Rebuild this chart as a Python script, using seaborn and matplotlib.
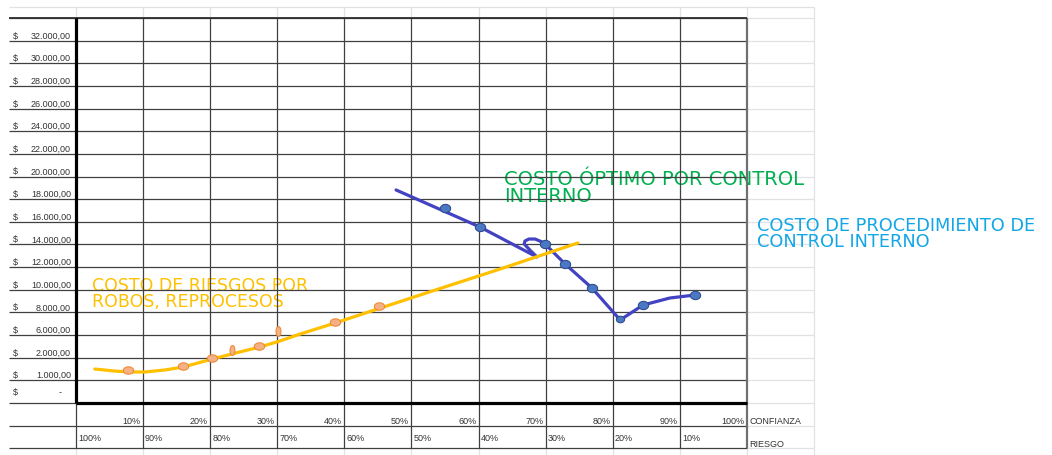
import numpy as np
import matplotlib.pyplot as plt
import seaborn as sns

# niveles de costo de la hoja (una fila por nivel, de abajo hacia arriba)
niveles = [0, 1000, 2000, 6000, 8000, 10000, 12000, 14000, 16000, 18000,
           20000, 22000, 24000, 26000, 28000, 30000, 32000]
confianza = ["10%", "20%", "30%", "40%", "50%", "60%", "70%", "80%", "90%", "100%"]
riesgo = ["100%", "90%", "80%", "70%", "60%", "50%", "40%", "30%", "20%", "10%"]

# curva amarilla: costo de riesgos (x = % confianza, y = $)
riesgo_x = [2.8, 5.8, 8.1, 10.3, 13.3, 16.0, 20.3, 24.4, 27.4, 30.4, 33.4, 38.6, 51.3, 63.2, 74.8]
riesgo_y = [1500, 1410, 1370, 1370, 1460, 1590, 1940, 3010, 3890, 4950, 6090, 7060, 9540, 11830, 14130]
puntos_riesgo_x = [7.8, 16.0, 20.3, 27.3, 38.6, 45.2]
puntos_riesgo_y = [1460, 1630, 1990, 4070, 7150, 8570]
puntos_angostos_x = [23.3, 30.1]
puntos_angostos_y = [3360, 6360]

# curva azul: costo de procedimiento de control interno
control_x = [47.7, 60.2, 68.7, 67.7, 66.8, 66.9, 67.5, 68.4, 69.3, 69.9, 72.9, 76.9, 81.1, 84.5, 88.5, 92.3]
control_y = [18810, 15540, 12890, 13470, 14040, 14300, 14480, 14480, 14260, 14040, 12270, 10150, 7330, 8650, 9270, 9540]
puntos_control_x = [55.0, 60.2, 69.9, 72.9, 76.9, 84.5, 92.3]
puntos_control_y = [17220, 15540, 14040, 12270, 10150, 8650, 9540]
punto_minimo_x = [81.1]
punto_minimo_y = [7420]


def fila(v):
    return np.interp(v, niveles, np.arange(len(niveles)))


def formato(v):
    if v == 0:
        return "-"
    return f"{v:,.2f}".replace(",", "X").replace(".", ",").replace("X", ".")


def elipse(ancho, alto):
    t = np.linspace(0, 2 * np.pi, 40)
    return np.column_stack([ancho * np.cos(t), alto * np.sin(t)])


sns.set_style("white")
plt.rcParams['font.family'] = ['Liberation Sans', 'DejaVu Sans']

fig = plt.figure(figsize=(10.52, 4.55), dpi=100)
ax = fig.add_axes([0, 0, 1, 1])
ax.set_xlim(-76 / 6.71, 976 / 6.71)
ax.set_ylim(-52 / 22.65, 403 / 22.65)
ax.axis('off')

oscuro = '#404040'
claro = '#e2e2e6'

# cuadricula tipo hoja de calculo
filas = list(range(-2, 18))
ax.hlines(filas, -10, 100, color=oscuro, lw=0.9, zorder=2)
ax.hlines(filas + [17.5], 100, 110, color=claro, lw=0.9, zorder=1)
ax.hlines(17.5, -10, 100, color=claro, lw=0.9, zorder=1)
ax.vlines(range(10, 100, 10), -2, 17, color=oscuro, lw=0.9, zorder=2)
ax.vlines(range(0, 111, 10), 17, 17.5, color=claro, lw=0.9, zorder=1)
ax.vlines(range(0, 111, 10), -2.3, -2, color=claro, lw=0.9, zorder=1)
ax.vlines(110, -2, 17, color=claro, lw=0.9, zorder=1)
ax.vlines(0, -2, 0, color=oscuro, lw=0.9, zorder=2)
ax.vlines(100, -2, 17, color='#707070', lw=1.6, zorder=2)
ax.hlines(17, -10, 100, color='#303030', lw=1.3, zorder=2)
ax.vlines(0, 0, 17, color='black', lw=2.3, zorder=3)
ax.hlines(0, 0, 100, color='black', lw=2.3, zorder=3)

# etiquetas de costo
txt = dict(fontsize=6.5, color='#333333', va='baseline')
for k, v in enumerate(niveles):
    base = k + 0.09 if v else 0.35
    ax.text(-9.4, base, "$", ha='left', **txt)
    if v:
        ax.text(-0.75, base, formato(v), ha='right', **txt)
    else:
        ax.text(-2.4, base, formato(v), ha='center', **txt)

# filas de confianza y riesgo
for i, lab in enumerate(confianza):
    ax.text(10 * (i + 1) - 0.35, -0.93, lab, ha='right', **txt)
ax.text(100.3, -0.93, "CONFIANZA", ha='left', **txt)
for i, lab in enumerate(riesgo):
    ax.text(10 * i + 0.3, -1.68, lab, ha='left', **txt)
ax.text(100.3, -1.94, "RIESGO", ha='left', **txt)

# curvas
sns.lineplot(x=control_x, y=fila(control_y), sort=False, estimator=None,
             color='#4242C2', lw=2.3, zorder=4, ax=ax)
sns.lineplot(x=riesgo_x, y=fila(riesgo_y), sort=False, estimator=None,
             color='#FFC000', lw=2.3, zorder=5, ax=ax)

naranja = dict(color='#F4B183', edgecolor='#EE8A3A', linewidth=0.8, zorder=6, ax=ax)
sns.scatterplot(x=puntos_riesgo_x, y=fila(puntos_riesgo_y), marker=elipse(1, 0.72), s=55, **naranja)
sns.scatterplot(x=puntos_angostos_x, y=fila(puntos_angostos_y), marker=elipse(0.5, 1), s=50, **naranja)

azul = dict(color='#4A78C4', edgecolor='#2E4F8C', linewidth=0.8, zorder=6, ax=ax)
sns.scatterplot(x=puntos_control_x, y=fila(puntos_control_y), marker=elipse(1, 0.8), s=55, **azul)
sns.scatterplot(x=punto_minimo_x, y=fila(punto_minimo_y), marker=elipse(1, 0.8), s=35, **azul)

# rotulos de las curvas (la y es la linea base del ultimo renglon)
rot = dict(family='DejaVu Sans', ha='left', va='baseline', zorder=1)
ax.text(2.4, 4.24, "COSTO DE RIESGOS POR\nROBOS, REPROCESOS",
        color='#FFC000', fontsize=12.5, linespacing=0.88, **rot)
ax.text(63.8, 8.87, "COSTO ÓPTIMO POR CONTROL\nINTERNO",
        color='#00B050', fontsize=14, linespacing=0.9, **rot)
ax.text(101.5, 6.89, "COSTO DE PROCEDIMIENTO DE\nCONTROL INTERNO",
        color='#12A6E6', fontsize=12.8, linespacing=0.82, **rot)

fig.savefig('out.png', dpi=100)
